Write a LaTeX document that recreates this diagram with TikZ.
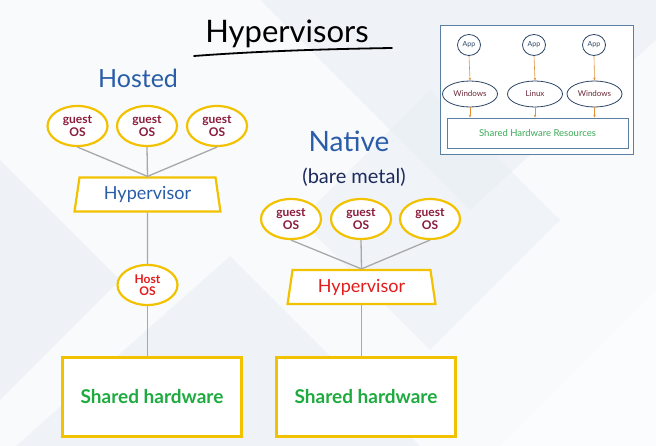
\documentclass[tikz,border=0pt]{standalone}
\usepackage{fontspec}
\setmainfont{Lato}
\usetikzlibrary{shapes.geometric,arrows.meta}
\definecolor{bgbase}{HTML}{EFF3F8}
\definecolor{bglight}{HTML}{F8FAFC}
\definecolor{bgdark}{HTML}{E6ECF2}
\definecolor{ylw}{HTML}{F2C200}
\definecolor{maroon}{HTML}{8A1C3C}
\definecolor{hblue}{HTML}{2A5DA8}
\definecolor{hred}{HTML}{E31B1B}
\definecolor{hgreen}{HTML}{1DAA3F}
\definecolor{navy}{HTML}{1C2A5C}
\definecolor{lgray}{HTML}{A8A8A8}
\definecolor{insetblue}{HTML}{5A7FA3}
\definecolor{insetnavy}{HTML}{2B4466}
\definecolor{insetred}{HTML}{6B2A3A}
\definecolor{insetgreen}{HTML}{3AAA55}
\definecolor{arrorange}{HTML}{E0913A}
\begin{document}
\begin{tikzpicture}[x=1pt,y=-1pt,
  guest/.style={ellipse, draw=ylw, line width=2.2pt, fill=white, minimum width=60pt, minimum height=40pt, inner sep=0pt, align=center, text=maroon, font=\fontsize{12}{12.5}\selectfont\bfseries},
  hyp/.style={trapezium, trapezium stretches=true, draw=ylw, line width=2.2pt, fill=white, minimum width=146pt, minimum height=34pt, trapezium left angle=79, trapezium right angle=79, inner sep=0pt, font=\fontsize{18}{18}\selectfont},
  hw/.style={rectangle, draw=ylw, line width=2.2pt, fill=white, minimum width=179pt, minimum height=79pt, inner sep=0pt, text=hgreen, font=\fontsize{19}{19}\selectfont\bfseries},
  conn/.style={draw=lgray, line width=1.3pt},
  app/.style={ellipse, draw=insetnavy, line width=0.8pt, fill=white, minimum width=23pt, minimum height=21pt, inner sep=0pt, font=\fontsize{7}{7}\selectfont, text=insetnavy},
  osnode/.style={ellipse, draw=insetnavy, line width=0.8pt, fill=white, minimum width=55pt, minimum height=26pt, inner sep=0pt, font=\fontsize{8}{8}\selectfont, text=insetred},
  arr/.style={draw=arrorange, line width=0.6pt, -{Stealth[length=3pt,width=2.5pt]}}
]
\useasboundingbox (0,0) rectangle (656,446);
% background
\fill[bgbase] (0,0) rectangle (656,446);
\fill[bglight] (0,0) -- (260,0) -- (470,210) -- (656,40) -- (656,446) -- (420,446) -- (230,256) -- (0,460) -- cycle;
\fill[bgdark, opacity=0.5] (0,160) -- (120,280) -- (0,400) -- cycle;
\fill[bgdark, opacity=0.4] (430,90) -- (560,220) -- (430,350) -- (300,220) -- cycle;
\fill[white, opacity=0.5] (500,446) -- (656,290) -- (656,446) -- cycle;

% title
\node[font=\fontsize{31}{31}\selectfont] (title) at (287,34) {Hypervisors};
\draw[line width=1.8pt, line cap=round] (194,56) .. controls (260,51) and (330,49) .. (392,48);

% inset
\node[draw=insetblue, line width=1pt, fill=white, minimum width=193pt, minimum height=129pt, inner sep=0pt] (inset) at (536.5,90.5) {};
\node[app] (a1) at (469,45) {App};
\node[app] (a2) at (534,45) {App};
\node[app] (a3) at (594,45) {App};
\node[osnode] (o1) at (470,94) {Windows};
\node[osnode] (o2) at (535,94) {Linux};
\node[osnode] (o3) at (594.5,94) {Windows};
\node[draw=insetblue, line width=0.8pt, minimum width=181pt, minimum height=30pt, inner sep=0pt, text=insetgreen, font=\fontsize{9.5}{9.5}\selectfont] (res) at (537.5,133) {Shared Hardware Resources};
\foreach \i in {1,2,3}{
  \draw[arr] (a\i.south) -- (o\i.north);
  \draw[arr] (o\i.south) -- (o\i.south |- res.north);
}

% hosted
\node[text=hblue, font=\fontsize{25}{25}\selectfont] (hosted) at (138,78) {Hosted};
\node[guest] (hg1) at (77.5,126) {guest\\OS};
\node[guest] (hg2) at (147,126) {guest\\OS};
\node[guest] (hg3) at (217,126) {guest\\OS};
\node[hyp, text=hblue] (hh) at (147.5,194.5) {Hypervisor};
\node[guest, text=hred] (host) at (147.5,285) {Host\\OS};
\node[hw] (hhw) at (152,397) {Shared hardware};
\draw[conn] (hg1.south) -- (hh.north);
\draw[conn] (hg2.south) -- (hh.north);
\draw[conn] (hg3.south) -- (hh.north);
\draw[conn] (hh.south) -- (host.north);
\draw[conn] (host.south) -- (host.south |- hhw.north);

% native
\node[text=hblue, font=\fontsize{28}{28}\selectfont] (native) at (349,141) {Native};
\node[text=navy, font=\fontsize{20}{20}\selectfont] (bare) at (354,177) {(bare metal)};
\node[guest] (ng1) at (291,219) {guest\\OS};
\node[guest] (ng2) at (361,219) {guest\\OS};
\node[guest] (ng3) at (430,219) {guest\\OS};
\node[hyp, text=hred, minimum width=148pt] (nh) at (361.5,287) {Hypervisor};
\node[hw] (nhw) at (366,397) {Shared hardware};
\draw[conn] (ng1.south) -- (nh.north);
\draw[conn] (ng2.south) -- (nh.north);
\draw[conn] (ng3.south) -- (nh.north);
\draw[conn] (nh.south) -- (nh.south |- nhw.north);
\end{tikzpicture}
\end{document}
